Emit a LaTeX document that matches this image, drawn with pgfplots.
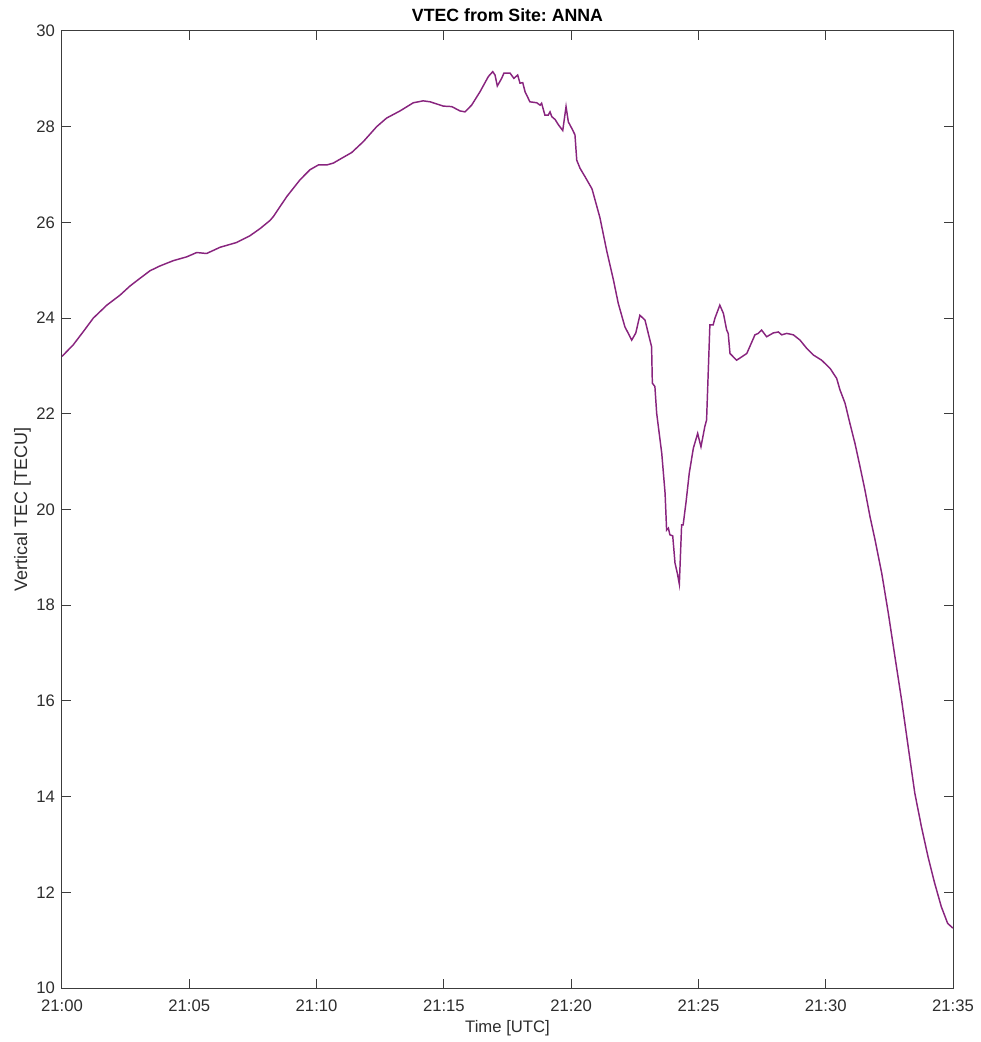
\documentclass[border=0pt]{standalone}
\usepackage{fontspec}
\setmainfont{Liberation Sans}
\usepackage{pgfplots}
\pgfplotsset{compat=1.18}
\definecolor{vtec}{RGB}{136,36,126}
\definecolor{axgray}{RGB}{60,60,60}
\definecolor{txtgray}{RGB}{45,45,45}
\frenchspacing
\begin{document}
\begin{tikzpicture}
\begin{axis}[
  scale only axis, width=668.25pt, height=717.75pt,
  xmin=0, xmax=35, ymin=10, ymax=30,
  xtick={0,5,10,15,20,25,30,35},
  xticklabels={21:00,21:05,21:10,21:15,21:20,21:25,21:30,21:35},
  ytick={10,12,14,16,18,20,22,24,26,28,30},
  tick align=inside, major tick length=6.75pt,
  axis line style={axgray, line width=0.75pt},
  tick style={axgray, line width=0.75pt},
  /pgf/number format/assume math mode=true,
  ticklabel style={font=\fontsize{12.5}{14}\selectfont, text=txtgray},
  xticklabel style={anchor=base, yshift=-17.8pt},
  yticklabel style={anchor=east, inner sep=0pt, xshift=-5.2pt},
  xlabel={Time [UTC]}, ylabel={Vertical TEC [TECU]},
  xlabel style={font=\fontsize{12.5}{14}\selectfont, text=txtgray, at={(axis description cs:0.5,0)}, anchor=base, yshift=-33pt},
  ylabel style={font=\fontsize{13.5}{15}\selectfont, text=txtgray, at={(axis description cs:-0.039,0.5)}, anchor=base, rotate=0},
  title={\textbf{VTEC from Site: ANNA}},
  title style={at={(axis description cs:0.5,1)}, anchor=base, yshift=1.2pt, font=\fontsize{13.3}{15}\selectfont, text=black},
]
\addplot[vtec, line width=1.1pt] coordinates {
(0,23.20) (0.44,23.44) (0.84,23.72) (1.23,24.00) (1.76,24.27) (2.28,24.48) (2.67,24.67)
(3.06,24.83) (3.46,24.99) (3.85,25.09) (4.37,25.20) (4.90,25.28) (5.29,25.37) (5.68,25.35)
(6.21,25.48) (6.86,25.58) (7.38,25.72) (7.78,25.87) (8.17,26.04) (8.30,26.12) (8.83,26.54)
(9.35,26.89) (9.74,27.10) (10.07,27.20) (10.40,27.20) (10.66,27.24) (11.05,27.36) (11.38,27.46)
(11.84,27.69) (12.36,28.00) (12.75,28.18) (13.28,28.33) (13.80,28.50) (14.19,28.54) (14.46,28.52)
(14.98,28.43) (15.31,28.42) (15.63,28.33) (15.83,28.31) (16.09,28.45) (16.42,28.73) (16.75,29.05)
(16.92,29.15) (17.01,29.08) (17.10,28.85) (17.27,29.01) (17.36,29.12) (17.60,29.12) (17.75,29.01)
(17.90,29.08) (17.99,28.91) (18.10,28.92) (18.19,28.73) (18.38,28.52) (18.65,28.50) (18.78,28.45)
(18.84,28.49) (18.97,28.24) (19.10,28.24) (19.17,28.31) (19.24,28.21) (19.37,28.15) (19.50,28.04)
(19.67,27.92) (19.80,28.42) (19.89,28.10) (20.02,27.97) (20.15,27.83) (20.22,27.30) (20.35,27.13)
(20.54,26.96) (20.82,26.70) (21.13,26.10) (21.40,25.40) (21.66,24.80) (21.85,24.31) (22.11,23.82)
(22.38,23.54) (22.54,23.69) (22.70,24.06) (22.90,23.96) (23.16,23.40) (23.19,22.64) (23.29,22.57)
(23.36,22.01) (23.56,21.17) (23.69,20.34) (23.75,19.57) (23.82,19.61) (23.88,19.47) (23.99,19.45)
(24.08,18.88) (24.17,18.67) (24.25,18.44) (24.34,19.68) (24.40,19.68) (24.51,20.14) (24.64,20.76)
(24.80,21.28) (24.97,21.59) (25.10,21.31) (25.25,21.73) (25.32,21.87) (25.45,23.86) (25.58,23.86)
(25.65,24.00) (25.84,24.27) (25.98,24.10) (26.11,23.75) (26.17,23.68) (26.24,23.26) (26.50,23.12)
(26.90,23.26) (27.22,23.65) (27.35,23.68) (27.48,23.75) (27.68,23.61) (27.94,23.69) (28.14,23.71)
(28.27,23.65) (28.47,23.68) (28.73,23.65) (28.99,23.54) (29.25,23.37) (29.51,23.23) (29.84,23.12)
(30.17,22.95) (30.43,22.74) (30.56,22.50) (30.76,22.22) (30.95,21.80) (31.15,21.38) (31.35,20.89)
(31.54,20.41) (31.74,19.85) (31.94,19.36) (32.20,18.67) (32.46,17.83) (32.72,16.92) (32.98,16.02)
(33.24,15.04) (33.50,14.07) (33.76,13.37) (34.02,12.74) (34.28,12.19) (34.54,11.70) (34.79,11.35)
(35.00,11.25)
};
\coordinate (SW) at (rel axis cs:0,0);
\coordinate (NE) at (rel axis cs:1,1);
\end{axis}
\pgfresetboundingbox
\path[use as bounding box] ([shift={(-46.5pt,-40.5pt)}]SW) rectangle ([shift={(21pt,23.25pt)}]NE);
\end{tikzpicture}
\end{document}
